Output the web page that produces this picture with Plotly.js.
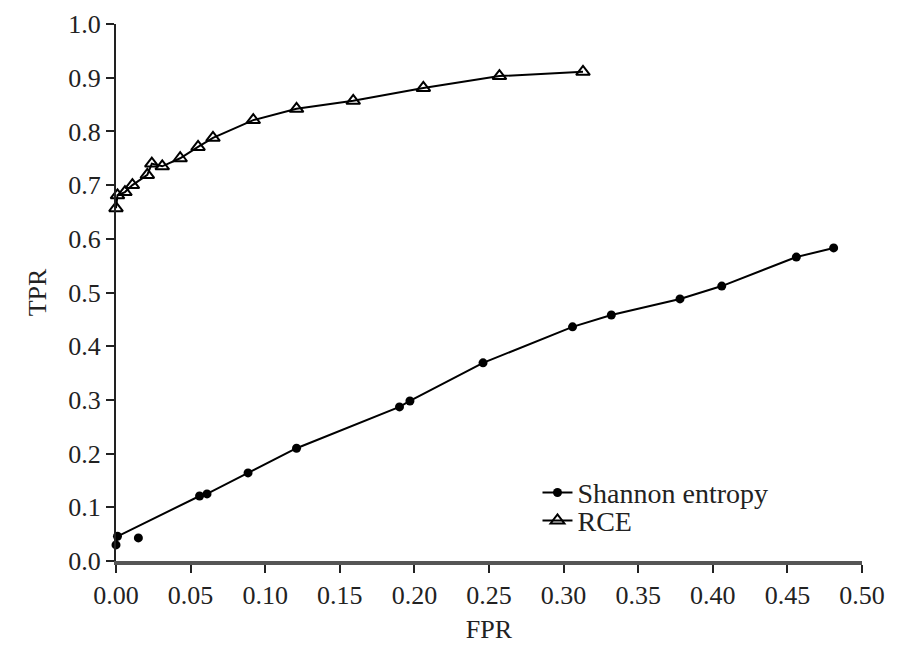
<!DOCTYPE html>
<html>
<head>
<meta charset="utf-8">
<script src="https://cdn.plot.ly/plotly-3.0.1.min.js"></script>
<style>html,body{margin:0;padding:0;background:#fff;}#chart{width:900px;height:646px;}</style>
</head>
<body>
<div id="chart"></div>
<script>
// Shannon entropy series
const shannonFPR = [0, 0.001, 0.056, 0.061, 0.0885, 0.121, 0.190, 0.197, 0.246, 0.306, 0.332, 0.378, 0.406, 0.456, 0.481];
const shannonTPR = [0.030, 0.046, 0.121, 0.125, 0.164, 0.210, 0.287, 0.298, 0.369, 0.436, 0.458, 0.488, 0.512, 0.566, 0.583];
// isolated Shannon entropy point (not joined by the line)
const shannonExtraFPR = [0.015];
const shannonExtraTPR = [0.043];
// RCE series
const rceFPR = [0, 0.001, 0.006, 0.011, 0.021, 0.024, 0.031, 0.043, 0.055, 0.065, 0.092, 0.121, 0.159, 0.206, 0.257, 0.313];
const rceTPR = [0.657, 0.681, 0.687, 0.700, 0.719, 0.740, 0.735, 0.750, 0.771, 0.788, 0.821, 0.842, 0.857, 0.881, 0.903, 0.911];
// ticks
const xTicks = [0, 0.05, 0.10, 0.15, 0.20, 0.25, 0.30, 0.35, 0.40, 0.45, 0.50];
const xTickText = ["0.00","0.05","0.10","0.15","0.20","0.25","0.30","0.35","0.40","0.45","0.50"];
const yTicks = [0, 0.1, 0.2, 0.3, 0.4, 0.5, 0.6, 0.7, 0.8, 0.9, 1.0];
const yTickText = ["0.0","0.1","0.2","0.3","0.4","0.5","0.6","0.7","0.8","0.9","1.0"];

const FONT = "Liberation Serif, Times New Roman, serif";
const TXT = "#222";

const traces = [
  {
    x: shannonFPR, y: shannonTPR, name: "Shannon entropy", legend: "legend",
    type: "scatter", mode: "lines+markers", cliponaxis: false,
    line: {color: "#000", width: 2},
    marker: {symbol: "circle", size: 9, color: "#000"}
  },
  {
    x: shannonExtraFPR, y: shannonExtraTPR, name: "Shannon entropy",
    type: "scatter", mode: "markers", showlegend: false, cliponaxis: false,
    marker: {symbol: "circle", size: 9, color: "#000"}
  },
  {
    x: rceFPR, y: rceTPR, name: "RCE", legend: "legend2",
    type: "scatter", mode: "lines+markers", cliponaxis: false,
    line: {color: "#000", width: 2},
    marker: {symbol: "triangle-up-open", size: 12, color: "#000", line: {width: 2, color: "#000"}}
  }
];

const legendBase = {
  xanchor: "left", yanchor: "middle",
  font: {family: FONT, size: 28, color: TXT},
  bgcolor: "rgba(0,0,0,0)", itemwidth: 30, borderwidth: 0
};

const layout = {
  width: 900, height: 646,
  margin: {l: 116, r: 38, t: 24, b: 85},
  paper_bgcolor: "#fff", plot_bgcolor: "#fff",
  font: {family: FONT, color: TXT, size: 25},
  showlegend: true,
  legend: Object.assign({}, legendBase, {x: 0.565, y: 0.127}),
  legend2: Object.assign({}, legendBase, {x: 0.565, y: 0.075}),
  xaxis: {
    range: [0, 0.5], tickvals: xTicks, ticktext: xTickText,
    showgrid: false, zeroline: false,
    showline: true, linecolor: "#555", linewidth: 4,
    ticks: "outside", ticklen: 8, tickwidth: 2, tickcolor: TXT,
    tickfont: {family: FONT, size: 26, color: TXT},
    title: {text: "FPR", font: {family: FONT, size: 26, color: TXT}, standoff: 12}
  },
  yaxis: {
    range: [0, 1.0], tickvals: yTicks, ticktext: yTickText,
    showgrid: false, zeroline: false,
    showline: true, linecolor: TXT, linewidth: 2,
    ticks: "outside", ticklen: 8, tickwidth: 2, tickcolor: TXT,
    tickfont: {family: FONT, size: 26, color: TXT},
    title: {text: "TPR", font: {family: FONT, size: 26, color: TXT}, standoff: 14}
  }
};

Plotly.newPlot("chart", traces, layout, {displayModeBar: false, staticPlot: true});
</script>
</body>
</html>
